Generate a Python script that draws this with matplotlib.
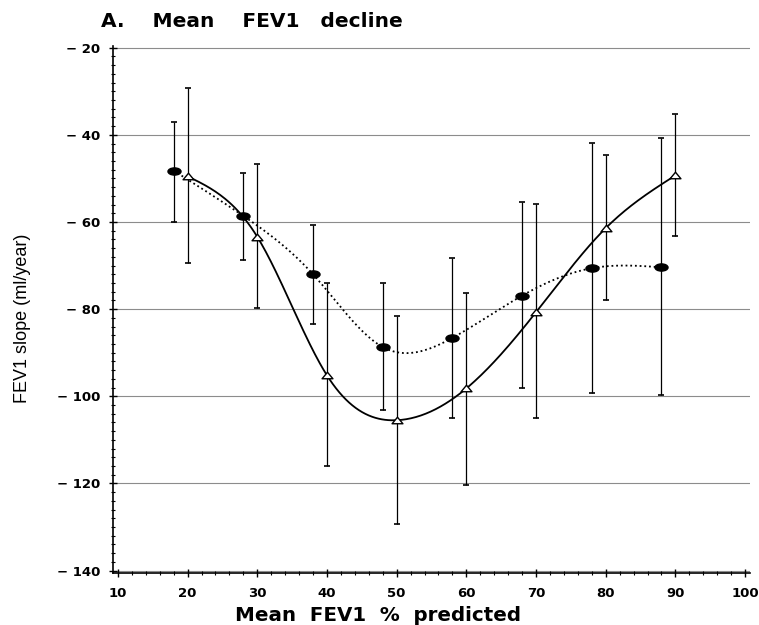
import numpy as np
import matplotlib
matplotlib.use("Agg")
import matplotlib.pyplot as plt
from matplotlib.path import Path
from matplotlib.transforms import Affine2D
from matplotlib.ticker import MultipleLocator, FixedLocator, FixedFormatter

# ---- data ----
circ_x = [18, 28, 38, 48, 58, 68, 78, 88]
circ_y = [-48.2, -58.6, -72.0, -88.7, -86.6, -76.9, -70.6, -70.4]
circ_hi = [-37.0, -48.7, -60.8, -74.0, -68.3, -55.5, -41.9, -40.8]
circ_lo = [-59.9, -68.7, -83.3, -103.2, -104.9, -98.2, -99.2, -99.8]

tri_x = [20, 30, 40, 50, 60, 70, 80, 90]
tri_y = [-49.5, -63.4, -95.2, -105.5, -98.2, -80.7, -61.4, -49.3]
tri_hi = [-29.3, -46.7, -73.9, -81.6, -76.4, -55.9, -44.6, -35.2]
tri_lo = [-69.3, -79.7, -116.0, -129.3, -120.3, -105.1, -77.8, -63.1]

xticks = [10, 20, 30, 40, 50, 60, 70, 80, 90, 100]
xtick_labels = ["10", "20", "30", "40", "50", "60", "70", "80", "90", "100"]
yticks = [-20, -40, -60, -80, -100, -120, -140]
ytick_labels = ["\u2212 20", "\u2212 40", "\u2212 60", "\u2212 80", "\u2212 100", "\u2212 120", "\u2212 140"]

title = "A.    Mean    FEV1   decline"
xlabel = "Mean  FEV1  %  predicted"
ylabel = "FEV1 slope (ml/year)"


def natural_spline(x, y, n=300):
    x = np.asarray(x, float)
    y = np.asarray(y, float)
    k = len(x)
    h = np.diff(x)
    A = np.zeros((k, k))
    b = np.zeros(k)
    A[0, 0] = 1
    A[-1, -1] = 1
    for i in range(1, k - 1):
        A[i, i - 1] = h[i - 1]
        A[i, i] = 2 * (h[i - 1] + h[i])
        A[i, i + 1] = h[i]
        b[i] = 6 * ((y[i + 1] - y[i]) / h[i] - (y[i] - y[i - 1]) / h[i - 1])
    M = np.linalg.solve(A, b)
    xs = np.linspace(x[0], x[-1], n)
    idx = np.clip(np.searchsorted(x, xs) - 1, 0, k - 2)
    x0, x1 = x[idx], x[idx + 1]
    hh = x1 - x0
    t0 = x1 - xs
    t1 = xs - x0
    ys = (M[idx] * t0 ** 3 / (6 * hh) + M[idx + 1] * t1 ** 3 / (6 * hh)
          + (y[idx] / hh - M[idx] * hh / 6) * t0
          + (y[idx + 1] / hh - M[idx + 1] * hh / 6) * t1)
    return xs, ys


W, H = 759, 625
fig = plt.figure(figsize=(W / 100, H / 100), dpi=100)
L, R, T, B = 113, 750, 46, 572.7
ax = fig.add_axes([L / W, 1 - B / H, (R - L) / W, (B - T) / H])
ax.set_xlim(9.3, 100.7)
ax.set_ylim(-140.5, -19.6)

# grid lines
for yv in yticks:
    ax.axhline(yv, color="#8c8c8c", lw=0.8, zorder=1)

# curves
sx, sy = natural_spline(tri_x, tri_y)
ax.plot(sx, sy, color="black", lw=1.3, zorder=3)
cx, cy = natural_spline(circ_x, circ_y)
ax.plot(cx, cy, color="black", lw=1.3, linestyle=(0, (1.0, 1.6)), zorder=3)

# error bars
cyerr = [np.array(circ_y) - np.array(circ_lo), np.array(circ_hi) - np.array(circ_y)]
tyerr = [np.array(tri_y) - np.array(tri_lo), np.array(tri_hi) - np.array(tri_y)]
ax.errorbar(circ_x, circ_y, yerr=cyerr, fmt="none", ecolor="black", elinewidth=0.9,
            capsize=2.3, capthick=1.2, zorder=2)
ax.errorbar(tri_x, tri_y, yerr=tyerr, fmt="none", ecolor="black", elinewidth=0.9,
            capsize=2.3, capthick=1.2, zorder=2)

# markers
ell = Path.unit_circle().transformed(Affine2D().scale(1.0, 0.55))
tri = Path([(-1, -0.6), (1, -0.6), (0, 0.6), (-1, -0.6)],
           [Path.MOVETO, Path.LINETO, Path.LINETO, Path.CLOSEPOLY])
ax.plot(circ_x, circ_y, linestyle="none", marker=ell, markersize=9.4,
        markerfacecolor="black", markeredgecolor="black", zorder=4)
ax.plot(tri_x, tri_y, linestyle="none", marker=tri, markersize=7.8,
        markerfacecolor="white", markeredgecolor="black", markeredgewidth=1.0, zorder=4)

# spines and ticks
for s in ("top", "right"):
    ax.spines[s].set_visible(False)
for s in ("left", "bottom"):
    ax.spines[s].set_linewidth(1.2)

ax.xaxis.set_major_locator(FixedLocator(xticks))
ax.xaxis.set_major_formatter(FixedFormatter(xtick_labels))
ax.xaxis.set_minor_locator(MultipleLocator(2))
ax.yaxis.set_major_locator(FixedLocator(yticks))
ax.yaxis.set_major_formatter(FixedFormatter(ytick_labels))
ax.yaxis.set_minor_locator(MultipleLocator(2))

ax.tick_params(axis="both", which="major", direction="inout", length=6, width=1.0,
               labelsize=9.5, pad=4)
ax.tick_params(axis="both", which="minor", direction="inout", length=3, width=0.8)
ax.tick_params(axis="y", which="major", pad=6)
ax.tick_params(axis="x", which="major", pad=7)
for lab in ax.get_xticklabels() + ax.get_yticklabels():
    lab.set_fontweight("bold")
    lab.set_family("DejaVu Sans")

# texts
fig.text(101 / W, 1 - 27 / H, title, fontsize=14.5, fontweight="bold",
         family="DejaVu Sans", ha="left", va="baseline")
fig.text(235 / W, 1 - 621 / H, xlabel, fontsize=14.3, fontweight="bold",
         family="DejaVu Sans", ha="left", va="baseline")
fig.text(23 / W, 1 - 318 / H, ylabel, fontsize=13, rotation=90,
         family=["Liberation Sans", "DejaVu Sans"], ha="center", va="center")

fig.savefig("out.png", dpi=100)
